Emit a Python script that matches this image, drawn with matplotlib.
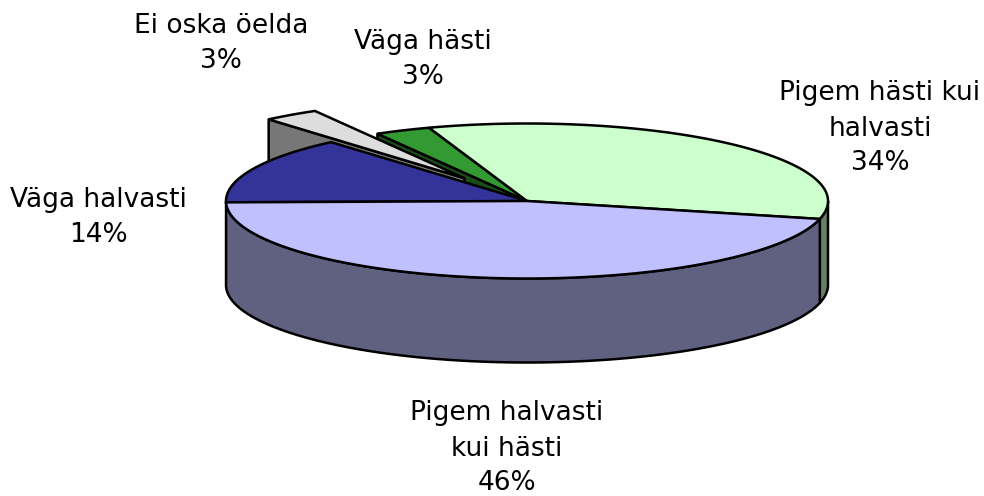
import numpy as np
import matplotlib
matplotlib.use('Agg')
import matplotlib.pyplot as plt
from matplotlib.patches import Polygon

# ─── Data ─────────────────────────────────────────────────────────────────────
names = ['Pigem hästi kui\nhalvasti', 'Pigem halvasti\nkui hästi', 'Väga halvasti',
         'Ei oska öelda', 'Väga hästi']
values = [34, 46, 14, 3, 3]
top_colors = ['#CCFFCC', '#C0C0FF', '#333399', '#DDDDDD', '#339933']
wall_colors = ['#668066', '#606080', '#1A1A4D', '#777777', '#1A4D1A']
label_pos = [(880, 128.5), (507, 448.5), (98, 217.5), (221, 43.5), (423, 59.5)]

# ─── Pie geometry (pixels of the 984x496 frame) ───────────────────────────────
CX, CY = 527, 201
RX, RY = 301, 77.5
DEPTH = 84
START = 341.0
EXPLODE = [0, 0, 0, 0.36, 0]
LW = 1.8

fig = plt.figure(figsize=(9.84, 4.96), dpi=100)
ax = fig.add_axes([0, 0, 1, 1])
ax.set_xlim(0, 984)
ax.set_ylim(496, 0)
ax.axis('off')

edges = START + np.concatenate([[0], np.cumsum(values)]) * 3.6


def offset(i):
    # shift of an exploded slice along its middle angle
    m = np.radians((edges[i] + edges[i + 1]) / 2)
    return np.array([RX * EXPLODE[i] * np.sin(m), -RY * EXPLODE[i] * np.cos(m)])


def apex(i):
    return np.array([[CX, CY]]) + offset(i)


def arc(i, a0=None, a1=None):
    # angle clockwise from the top of the ellipse
    a0 = edges[i] if a0 is None else a0
    a1 = edges[i + 1] if a1 is None else a1
    a = np.radians(np.linspace(a0, a1, 120))
    return np.column_stack([CX + RX * np.sin(a), CY - RY * np.cos(a)]) + offset(i)


def draw_top(i, z):
    ax.add_patch(Polygon(np.vstack([apex(i), arc(i)]), closed=True, fc=top_colors[i],
                         ec='black', lw=LW, joinstyle='miter', zorder=z))


def draw_side(pts, color, z):
    # extrude a top outline down by the pie depth
    low = pts[::-1] + np.array([0, DEPTH])
    ax.add_patch(Polygon(np.vstack([pts, low]), closed=True, fc=color,
                         ec='black', lw=LW, joinstyle='round', zorder=z))


# back to front
draw_side(np.vstack([arc(4)[:1], apex(4)]), wall_colors[4], 1)      # cut face, Väga hästi
draw_top(4, 2)
draw_side(arc(0, a0=450.0), wall_colors[0], 3)                      # rim, Pigem hästi
draw_top(0, 4)
draw_side(np.vstack([arc(3)[:1], apex(3)]), wall_colors[3], 5)      # cut face, Ei oska
draw_top(3, 6)
draw_side(arc(1), wall_colors[1], 7)                                # front rim
draw_top(2, 8)
draw_top(1, 9)

for name, v, (x, y) in zip(names, values, label_pos):
    ax.text(x, y, f'{name}\n{v}%', ha='center', va='center', fontsize=19,
            family='DejaVu Sans', linespacing=1.45, color='black', zorder=10)

fig.savefig('out.png', dpi=100)
